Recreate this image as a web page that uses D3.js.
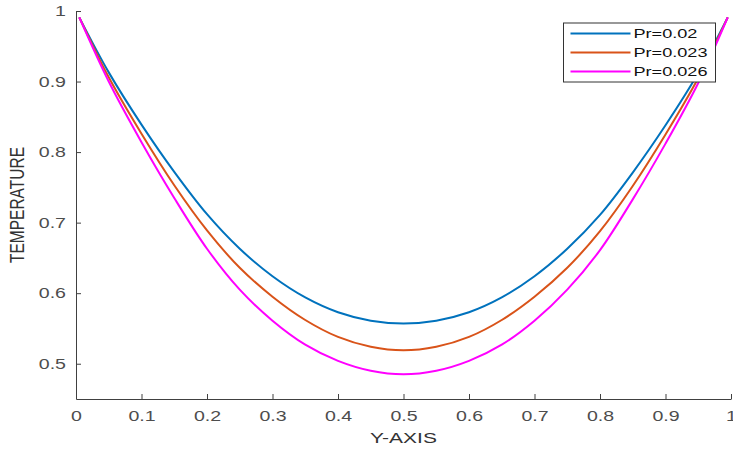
<!DOCTYPE html>
<html>
<head>
<meta charset="utf-8">
<script src="https://cdn.jsdelivr.net/npm/d3@7"></script>
<style>
  body { margin: 0; background: #fff; }
  svg { display: block; font-family: "Liberation Sans", Arial, sans-serif; }
</style>
</head>
<body>
<svg id="chart" width="733" height="450"></svg>
<script>
// values
var yPos = [0.005, 0.05, 0.1, 0.15, 0.2, 0.25, 0.3, 0.35, 0.4, 0.45, 0.5,
            0.55, 0.6, 0.65, 0.7, 0.75, 0.8, 0.85, 0.9, 0.95, 0.995];
var tempPr002 = [0.991, 0.913, 0.839, 0.772, 0.712, 0.663, 0.624, 0.594, 0.573, 0.561, 0.557,
                 0.561, 0.573, 0.594, 0.624, 0.663, 0.711, 0.771, 0.838, 0.912, 0.991];
var tempPr0023 = [0.991, 0.906, 0.826, 0.753, 0.689, 0.636, 0.595, 0.562, 0.538, 0.524, 0.519,
                  0.524, 0.538, 0.562, 0.595, 0.636, 0.688, 0.752, 0.825, 0.905, 0.991];
var tempPr0026 = [0.991, 0.900, 0.814, 0.735, 0.663, 0.605, 0.561, 0.527, 0.504, 0.490, 0.485,
                  0.490, 0.504, 0.527, 0.561, 0.605, 0.661, 0.733, 0.812, 0.898, 0.991];
var seriesNames = ["Pr=0.02", "Pr=0.023", "Pr=0.026"];
var xTicks = [0, 0.1, 0.2, 0.3, 0.4, 0.5, 0.6, 0.7, 0.8, 0.9, 1];
var yTicks = [0.5, 0.6, 0.7, 0.8, 0.9, 1];

var colors = ["#0072BD", "#D95319", "#FF00FF"];
var series = [tempPr002, tempPr0023, tempPr0026];

var svg = d3.select("#chart");
var pLeft = 76, pRight = 731, pTop = 11, pBottom = 399;
var stretch = 1.35; // the picture's text is wider than it is tall

var x = d3.scaleLinear().domain([0, 1]).range([pLeft, pRight]);
var y = d3.scaleLinear().domain([0.45, 1]).range([pBottom, pTop]);

var fmt = function(d) { return String(+d.toFixed(1)); };

var gx = svg.append("g")
    .attr("transform", "translate(0," + pBottom + ")")
    .call(d3.axisBottom(x).tickValues(xTicks).tickFormat(fmt)
        .tickSizeInner(-5).tickSizeOuter(0).tickPadding(12));

var gy = svg.append("g")
    .attr("transform", "translate(" + pLeft + ",0)")
    .call(d3.axisLeft(y).tickValues(yTicks).tickFormat(fmt)
        .tickSizeInner(-5).tickSizeOuter(0).tickPadding(10));

[gx, gy].forEach(function(g) {
    g.select(".domain").attr("stroke", "#404040");
    g.selectAll(".tick line").attr("stroke", "#404040");
    g.selectAll(".tick text")
        .attr("fill", "#4d4d4d")
        .style("font-size", "14.5px")
        .each(function() {
            var t = d3.select(this);
            var tx = +t.attr("x") || 0, ty = +t.attr("y") || 0;
            t.attr("transform", "translate(" + tx + "," + ty + ") scale(" + stretch + ",1)")
             .attr("x", 0).attr("y", 0);
        });
});

// axis titles
svg.append("text")
    .attr("transform", "translate(" + ((pLeft + pRight) / 2) + ",443) scale(1.4,1)")
    .attr("text-anchor", "middle")
    .attr("fill", "#333")
    .style("font-size", "15px")
    .text("Y-AXIS");

svg.append("text")
    .attr("transform", "translate(24," + ((pTop + pBottom) / 2) + ") scale(" + stretch + ",1) rotate(-90)")
    .attr("text-anchor", "middle")
    .attr("fill", "#333")
    .style("font-size", "15.5px")
    .text("TEMPERATURE");

var line = d3.line()
    .x(function(d, i) { return x(yPos[i]); })
    .y(function(d) { return y(d); })
    .curve(d3.curveCatmullRom.alpha(0.5));

svg.selectAll(".curve")
    .data(series)
    .enter().append("path")
    .attr("class", "curve")
    .attr("d", line)
    .attr("fill", "none")
    .attr("stroke", function(d, i) { return colors[i]; })
    .attr("stroke-width", 2);

// legend
var legend = svg.append("g").attr("transform", "translate(563.5,23)");
legend.append("rect")
    .attr("width", 152).attr("height", 59)
    .attr("fill", "#fff")
    .attr("stroke", "#333").attr("stroke-width", 1);

var items = legend.selectAll(".item")
    .data(seriesNames)
    .enter().append("g")
    .attr("transform", function(d, i) { return "translate(0," + (10.5 + i * 19) + ")"; });

items.append("line")
    .attr("x1", 7).attr("x2", 67)
    .attr("stroke", function(d, i) { return colors[i]; })
    .attr("stroke-width", 2);

items.append("text")
    .attr("transform", "translate(70,0) scale(1.45,1)")
    .attr("dy", "0.35em")
    .attr("fill", "#111")
    .style("font-size", "12.5px")
    .text(function(d) { return d; });
</script>
</body>
</html>
